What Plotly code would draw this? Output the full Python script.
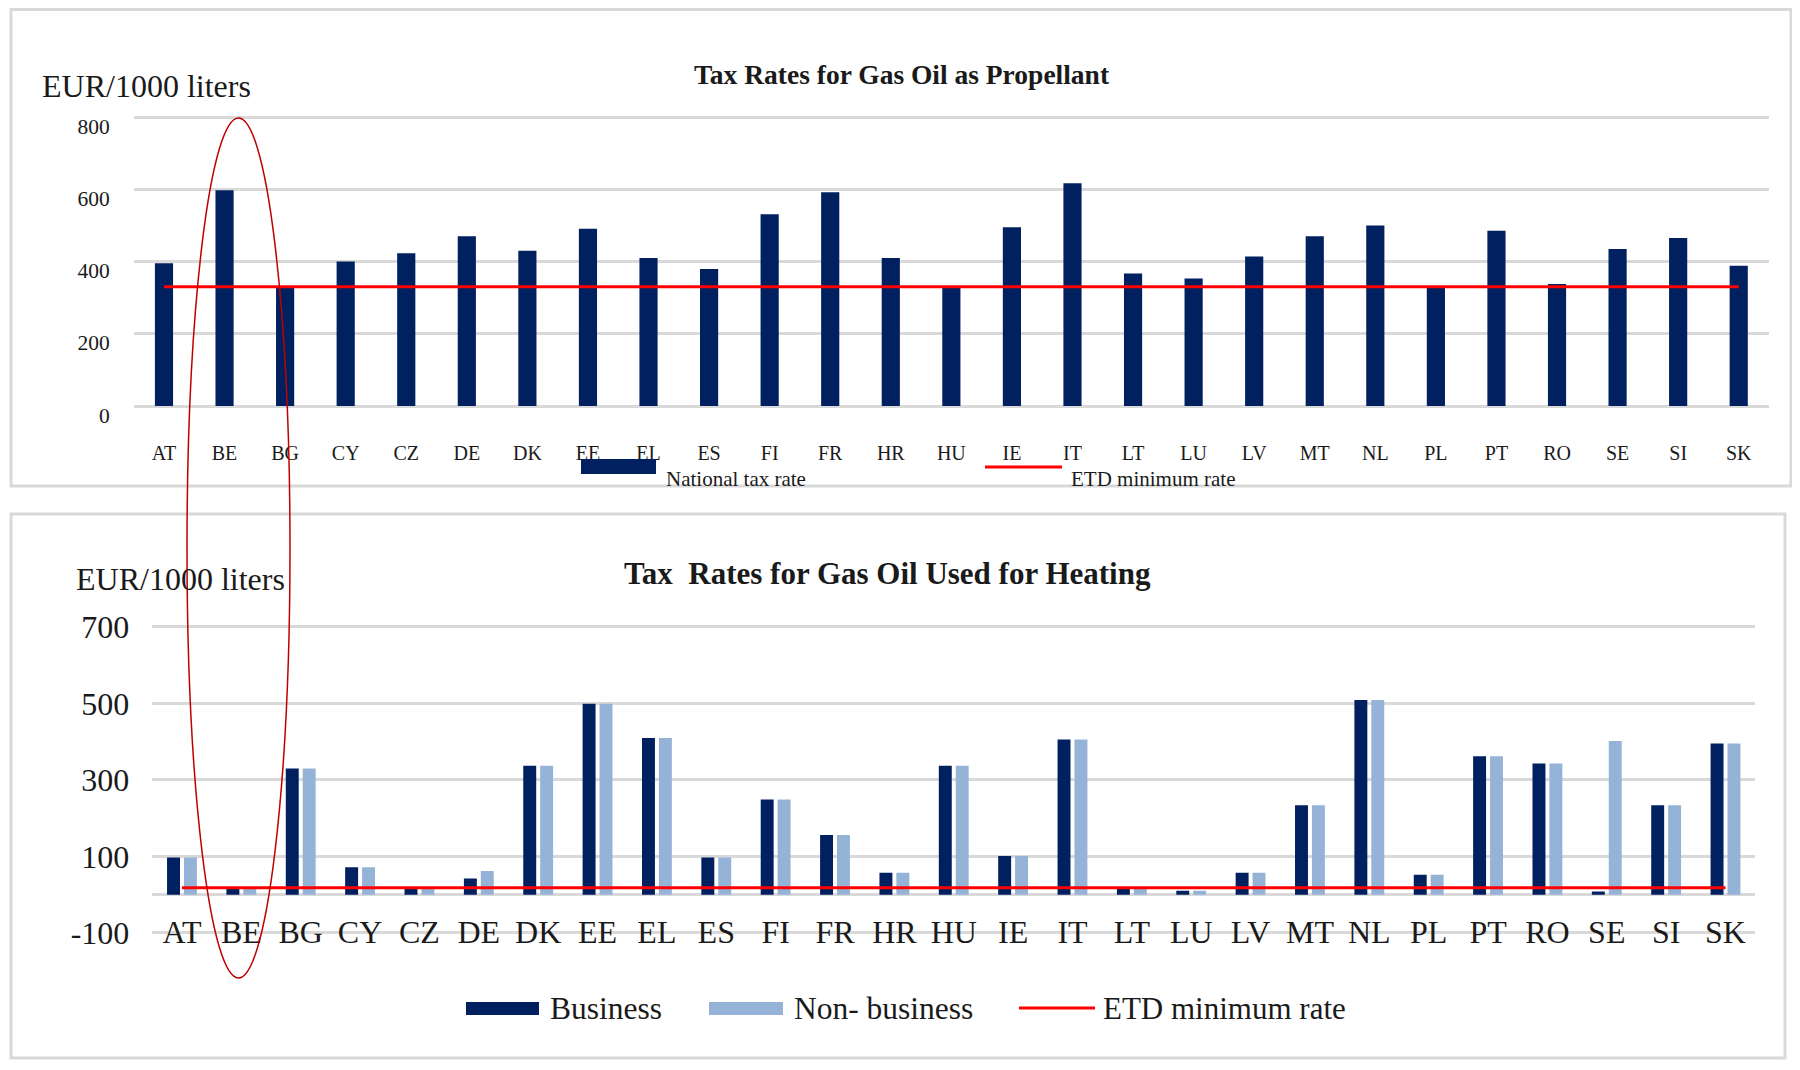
import plotly.graph_objects as go

countries = ["AT", "BE", "BG", "CY", "CZ", "DE", "DK", "EE", "EL", "ES", "FI", "FR", "HR", "HU",
             "IE", "IT", "LT", "LU", "LV", "MT", "NL", "PL", "PT", "RO", "SE", "SI", "SK"]

propellant_rate = [395, 597, 330, 400, 423, 470, 430, 491, 410, 379, 531, 592, 410, 330,
                   495, 617, 367, 353, 414, 470, 500, 330, 485, 338, 435, 465, 388]
propellant_etd_min = 330

heating_business = [97, 15, 330, 72, 15, 42, 337, 499, 410, 97, 249, 156, 57, 337,
                    101, 406, 15, 10, 57, 234, 509, 52, 362, 343, 8, 234, 395]
heating_non_business = [97, 15, 330, 72, 15, 62, 337, 499, 410, 97, 249, 156, 57, 337,
                        101, 406, 15, 10, 57, 234, 509, 52, 362, 343, 402, 234, 395]
heating_etd_min = 18

top_ticks = [0, 200, 400, 600, 800]
bottom_ticks = [-100, 100, 300, 500, 700]

# page body has an 8px margin; the figure is sized and offset to fill the 1800x1070 window
OFF = 8
W, H = 1800 - 2 * OFF, 1070 - 2 * OFF
NAVY = "#002060"
LIGHT = "#95B3D7"
RED = "#FF0000"
GRID = "#D9D9D9"
TXT = "#1a1a1a"
SERIF = "Liberation Serif, Times New Roman, serif"


def px(x):
    return (x - OFF) / W


def py(y):
    return 1 - (y - OFF) / H


fig = go.Figure()

# Top chart
fig.add_trace(go.Bar(x=countries, y=propellant_rate, marker_color=NAVY, xaxis="x", yaxis="y",
                     name="National tax rate", showlegend=False, width=0.30))
fig.add_trace(go.Scatter(x=countries, y=[propellant_etd_min] * len(countries), mode="lines",
                         line=dict(color=RED, width=3), xaxis="x", yaxis="y",
                         name="ETD minimum rate", showlegend=False))

# Bottom chart
fig.add_trace(go.Bar(x=countries, y=heating_business, marker_color=NAVY, xaxis="x2", yaxis="y2",
                     name="Business", showlegend=False))
fig.add_trace(go.Bar(x=countries, y=heating_non_business, marker_color=LIGHT, xaxis="x2", yaxis="y2",
                     name="Non- business", showlegend=False))
fig.add_trace(go.Scatter(x=countries, y=[heating_etd_min] * len(countries), mode="lines",
                         line=dict(color=RED, width=3), xaxis="x2", yaxis="y2",
                         name="ETD minimum rate", showlegend=False))

# top: 0 -> 406px, 800 -> 117px ; bottom: 0 -> 894.7px, 700 -> 627px
top_range = [-6, 812]
top_dom = [py(408.2), py(112.7)]
bot_range = [-112, 712]
bot_dom = [py(937.5), py(622.4)]

fig.update_layout(
    template="none",
    width=W, height=H, autosize=False,
    margin=dict(l=0, r=0, t=0, b=0, pad=0),
    paper_bgcolor="white", plot_bgcolor="white",
    barmode="group", bargap=0.43, bargroupgap=0.235,
    font=dict(family=SERIF, color=TXT),
    xaxis=dict(domain=[px(133.7), px(1769)], anchor="y", showgrid=False, zeroline=False,
               showline=False, ticks="", automargin=False,
               tickfont=dict(size=20, family=SERIF, color=TXT), ticklabelstandoff=31),
    yaxis=dict(domain=top_dom, anchor="x", range=top_range, tickmode="array", tickvals=top_ticks,
               ticktext=[str(v) for v in top_ticks],
               showgrid=True, gridcolor=GRID, gridwidth=3, zeroline=False, showline=False,
               ticks="", automargin=False,
               tickfont=dict(size=21.5, family=SERIF, color=TXT), ticklabelstandoff=23,
               ticklabelshift=9),
    xaxis2=dict(domain=[px(152.3), px(1755.2)], anchor="y2", showgrid=False, zeroline=False,
                showline=False, ticks="", automargin=False,
                tickfont=dict(size=32, family=SERIF, color=TXT), ticklabelstandoff=-28),
    yaxis2=dict(domain=bot_dom, anchor="x2", range=bot_range, tickmode="array",
                tickvals=bottom_ticks, ticktext=[str(v) for v in bottom_ticks],
                showgrid=True, gridcolor=GRID, gridwidth=3, zeroline=True,
                zerolinecolor=GRID, zerolinewidth=3, showline=False, ticks="", automargin=False,
                tickfont=dict(size=32, family=SERIF, color=TXT), ticklabelstandoff=22),
)

shapes = []
# panel borders
shapes.append(dict(type="rect", xref="paper", yref="paper", x0=px(11), x1=px(1791), y0=py(9.5), y1=py(486),
                   line=dict(color=GRID, width=3), layer="below"))
shapes.append(dict(type="rect", xref="paper", yref="paper", x0=px(11), x1=px(1785), y0=py(514), y1=py(1058),
                   line=dict(color=GRID, width=3), layer="below"))
# top legend swatches
shapes.append(dict(type="rect", xref="paper", yref="paper", x0=px(581), x1=px(656), y0=py(474), y1=py(459),
                   fillcolor=NAVY, line=dict(width=0)))
shapes.append(dict(type="line", xref="paper", yref="paper", x0=px(985), x1=px(1062), y0=py(467), y1=py(467),
                   line=dict(color=RED, width=3)))
# bottom legend swatches
shapes.append(dict(type="rect", xref="paper", yref="paper", x0=px(466), x1=px(539), y0=py(1015), y1=py(1002),
                   fillcolor=NAVY, line=dict(width=0)))
shapes.append(dict(type="rect", xref="paper", yref="paper", x0=px(709), x1=px(783), y0=py(1015), y1=py(1002),
                   fillcolor=LIGHT, line=dict(width=0)))
shapes.append(dict(type="line", xref="paper", yref="paper", x0=px(1019), x1=px(1095), y0=py(1008), y1=py(1008),
                   line=dict(color=RED, width=3)))
# red ellipse highlight around BE
shapes.append(dict(type="circle", xref="paper", yref="paper", x0=px(187), x1=px(290), y0=py(978), y1=py(118),
                   line=dict(color="#C00000", width=1.5)))
fig.update_layout(shapes=shapes)

annotations = [
    dict(text="<b>Tax Rates for Gas Oil as Propellant</b>", x=px(902), y=py(74), xanchor="center",
         yanchor="middle", font=dict(size=27.5, family=SERIF, color=TXT)),
    dict(text="EUR/1000 liters", x=px(40), y=py(86), xanchor="left", yanchor="middle",
         font=dict(size=32, family=SERIF, color=TXT)),
    dict(text="<b>Tax  Rates for Gas Oil Used for Heating</b>", x=px(887), y=py(573), xanchor="center",
         yanchor="middle", font=dict(size=31, family=SERIF, color=TXT)),
    dict(text="EUR/1000 liters", x=px(74), y=py(579), xanchor="left", yanchor="middle",
         font=dict(size=32, family=SERIF, color=TXT)),
    dict(text="National tax rate", x=px(664), y=py(479), xanchor="left", yanchor="middle",
         font=dict(size=21, family=SERIF, color=TXT)),
    dict(text="ETD minimum rate", x=px(1069), y=py(479), xanchor="left", yanchor="middle",
         font=dict(size=21, family=SERIF, color=TXT)),
    dict(text="Business", x=px(548), y=py(1008), xanchor="left", yanchor="middle",
         font=dict(size=31.5, family=SERIF, color=TXT)),
    dict(text="Non- business", x=px(792), y=py(1008), xanchor="left", yanchor="middle",
         font=dict(size=31.5, family=SERIF, color=TXT)),
    dict(text="ETD minimum rate", x=px(1101), y=py(1008), xanchor="left", yanchor="middle",
         font=dict(size=31, family=SERIF, color=TXT)),
]
for a in annotations:
    a.update(xref="paper", yref="paper", showarrow=False)
fig.update_layout(annotations=annotations)

fig.write_html("out.html")
